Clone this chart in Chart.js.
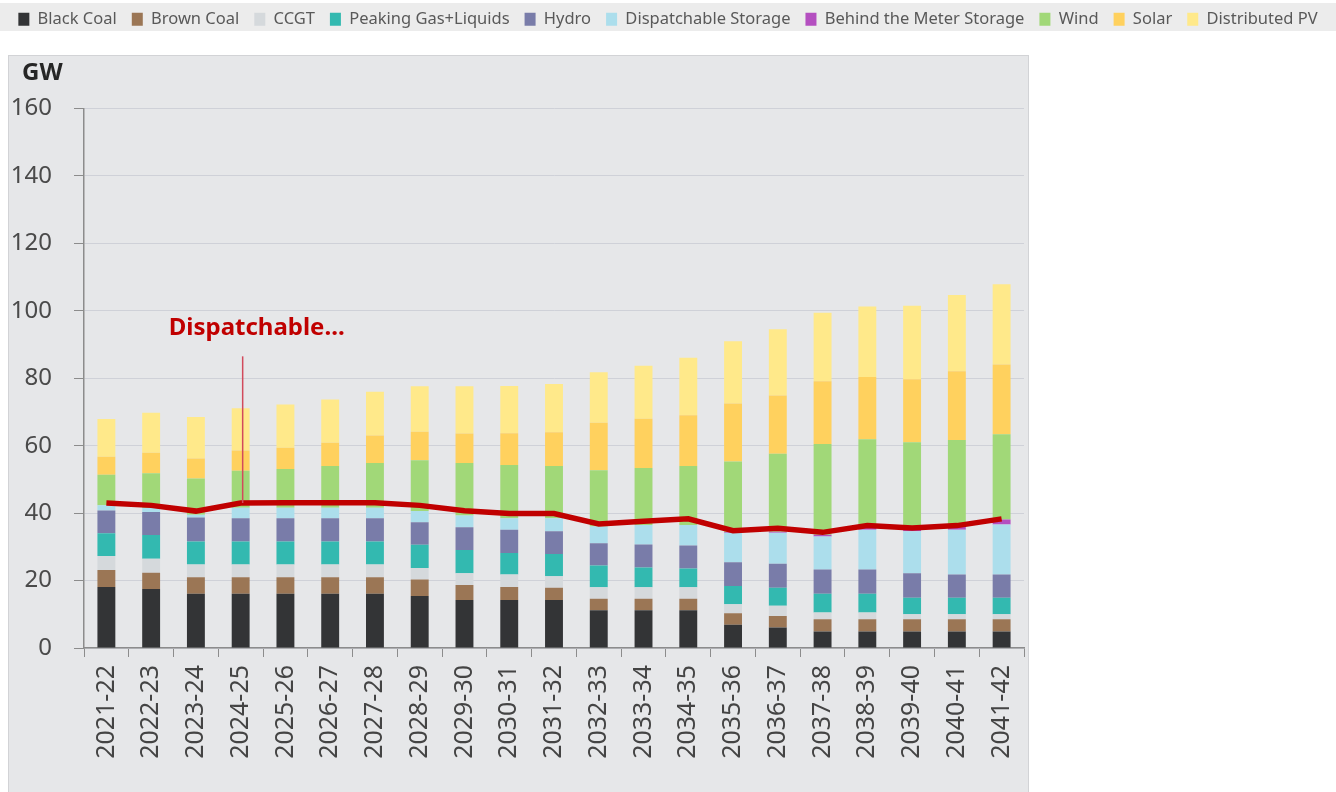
<!DOCTYPE html>
<html lang="en">
<head>
<meta charset="UTF-8">
<title>Dispatchable capacity outlook</title>
<script src="https://cdn.jsdelivr.net/npm/chart.js"></script>
<style>
  html, body { margin: 0; padding: 0; background: #ffffff; }
  #wrap { width: 1336px; height: 792px; }
</style>
</head>
<body>
<div id="wrap"><canvas id="capacityChart" width="1336" height="792"></canvas></div>

<script>
// financial years
const years = ['2021-22','2022-23','2023-24','2024-25','2025-26','2026-27','2027-28','2028-29','2029-30','2030-31','2031-32',
               '2032-33','2033-34','2034-35','2035-36','2036-37','2037-38','2038-39','2039-40','2040-41','2041-42'];

// installed capacity by technology, GW
const blackCoal   = [18.1,17.5,16.1,16.1,16.1,16.1,16.1,15.4,14.2,14.2,14.2,11.2,11.2,11.2,6.9,6.1,4.9,4.9,4.9,4.9,4.9];
const brownCoal   = [5.0,4.8,4.9,4.9,4.9,4.9,4.9,4.9,4.5,3.9,3.7,3.4,3.4,3.4,3.4,3.4,3.6,3.6,3.6,3.6,3.6];
const ccgt        = [4.2,4.2,3.8,3.8,3.8,3.8,3.8,3.4,3.5,3.7,3.4,3.4,3.4,3.4,2.7,3.0,2.0,2.0,1.5,1.5,1.5];
const peaking     = [6.7,7.0,6.8,6.8,6.8,6.8,6.8,6.9,6.9,6.4,6.6,6.5,5.9,5.6,5.4,5.4,5.6,5.6,4.9,4.9,4.9];
const hydro       = [6.8,6.8,7.1,6.9,6.9,6.9,6.9,6.7,6.7,6.9,6.7,6.6,6.8,6.8,7.0,7.1,7.2,7.2,7.3,6.9,6.9];
const storage     = [1.5,1.2,0.8,3.1,3.1,3.1,3.1,3.3,3.5,3.4,3.9,4.9,5.8,6.1,8.8,9.2,9.8,11.8,12.4,13.3,14.8];
const btmStorage  = [0,0,0,0,0,0,0,0,0,0,0,0,0,0,0.2,0.3,0.5,0.5,0.8,0.8,1.5];
const wind        = [9.1,10.3,10.8,11.0,11.5,12.4,13.3,15.1,15.6,15.8,15.5,16.7,16.9,17.5,20.9,23.1,26.9,26.3,25.6,25.8,25.3];
const solar       = [5.3,6.1,5.9,6.0,6.3,6.9,8.1,8.4,8.7,9.4,10.0,14.1,14.6,15.0,17.2,17.3,18.6,18.5,18.7,20.4,20.7];
const distPV      = [11.2,11.9,12.3,12.5,12.8,12.8,13.0,13.5,14.0,14.0,14.3,15.0,15.7,17.1,18.5,19.6,20.3,20.9,21.8,22.6,23.8];

// total dispatchable capacity line, GW
const dispatchable = [43.0,42.3,40.6,43.0,43.1,43.1,43.1,42.3,40.7,39.9,39.9,36.8,37.6,38.3,34.8,35.5,34.3,36.3,35.6,36.3,38.3];

const yTicks = [0, 20, 40, 60, 80, 100, 120, 140, 160];

const FONT = "'Noto Sans', 'DejaVu Sans', sans-serif";

function barSet(label, data, color) {
    return { type: 'bar', label: label, data: data, backgroundColor: color, borderWidth: 0,
             stack: 'cap', order: 1, barPercentage: 0.4, categoryPercentage: 1.0 };
}

// grey panel, legend band and the "GW" unit
const backdrop = {
    id: 'backdrop',
    beforeDraw(chart) {
        const ctx = chart.ctx;
        ctx.save();
        ctx.fillStyle = '#ececec';
        ctx.fillRect(0, 3, 1336, 28);
        ctx.fillStyle = '#e6e7e9';
        ctx.fillRect(8, 55, 1020, 740);
        ctx.strokeStyle = '#d2d3d6';
        ctx.lineWidth = 1;
        ctx.strokeRect(8.5, 55.5, 1020, 740);
        ctx.restore();
    },
    afterDraw(chart) {
        const ctx = chart.ctx;
        ctx.save();
        ctx.fillStyle = '#262626';
        ctx.font = "bold 24px " + FONT;
        ctx.textBaseline = 'middle';
        ctx.fillText('GW', 22, 73);
        ctx.restore();
    }
};

// "Dispatchable..." call-out pointing at the line
const callout = {
    id: 'callout',
    afterDatasetsDraw(chart) {
        const ctx = chart.ctx;
        const xs = chart.scales.x, ys = chart.scales.y;
        const i = 3;
        const px = xs.getPixelForValue(i);
        ctx.save();
        ctx.strokeStyle = '#d24a5c';
        ctx.lineWidth = 1.5;
        ctx.beginPath();
        ctx.moveTo(px + 2, ys.getPixelForValue(86.5));
        ctx.lineTo(px + 2, ys.getPixelForValue(dispatchable[i]));
        ctx.stroke();
        ctx.fillStyle = '#c00000';
        ctx.font = "bold 24px " + FONT;
        ctx.textAlign = 'center';
        ctx.textBaseline = 'middle';
        ctx.fillText('Dispatchable...', px + 16, ys.getPixelForValue(94.8));
        ctx.restore();
    }
};

new Chart(document.getElementById('capacityChart'), {
    data: {
        labels: years,
        datasets: [
            { type: 'line', label: 'Dispatchable', data: dispatchable, borderColor: '#c00000',
              backgroundColor: '#c00000', borderWidth: 5.5, pointRadius: 0, tension: 0,
              fill: false, stack: 'line', order: 0 },
            barSet('Black Coal', blackCoal, '#333436'),
            barSet('Brown Coal', brownCoal, '#9b7655'),
            barSet('CCGT', ccgt, '#d5d9dc'),
            barSet('Peaking Gas+Liquids', peaking, '#33b9b0'),
            barSet('Hydro', hydro, '#797ca9'),
            barSet('Dispatchable Storage', storage, '#acdeec'),
            barSet('Behind the Meter Storage', btmStorage, '#b44fc0'),
            barSet('Wind', wind, '#a1d878'),
            barSet('Solar', solar, '#ffd15e'),
            barSet('Distributed PV', distPV, '#ffe98a')
        ]
    },
    options: {
        responsive: false,
        animation: false,
        layout: { padding: { left: 0, right: 0, top: -4, bottom: 0 } },
        plugins: {
            legend: {
                position: 'top',
                labels: {
                    filter: item => item.text !== 'Dispatchable',
                    boxWidth: 11,
                    boxHeight: 13,
                    padding: 15,
                    color: '#595959',
                    font: { family: FONT, size: 16.5 }
                }
            },
            tooltip: { enabled: false }
        },
        scales: {
            x: {
                stacked: true,
                grid: { display: true, drawOnChartArea: false, tickLength: 9, tickColor: '#8c8c8c', offset: true },
                border: { color: '#8c8c8c', width: 1.5 },
                ticks: { autoSkip: false, minRotation: 90, maxRotation: 90, padding: 8,
                         color: '#444444', font: { family: FONT, size: 25 } },
                afterFit(s) { s.height = 144; }
            },
            y: {
                stacked: true,
                min: 0,
                max: 160,
                afterBuildTicks(s) { s.ticks = yTicks.map(v => ({ value: v })); },
                grid: { color: '#cfd1d8', lineWidth: 1, tickLength: 10, tickColor: '#8c8c8c' },
                border: { color: '#8c8c8c', width: 1.5 },
                ticks: { padding: 22, color: '#4a4a4a', font: { family: FONT, size: 24 } },
                afterFit(s) { s.width = 84; }
            },
            // empty boxes that reserve the gap above the plot and the white strip on the right
            gapTop: {
                type: 'linear', position: 'top', display: true,
                grid: { display: false }, border: { display: false }, ticks: { display: false },
                afterFit(s) { s.height = 71; }
            },
            gapRight: {
                type: 'linear', position: 'right', display: true,
                grid: { display: false }, border: { display: false }, ticks: { display: false },
                afterFit(s) { s.width = 312; }
            }
        }
    },
    plugins: [backdrop, callout]
});
</script>
</body>
</html>
